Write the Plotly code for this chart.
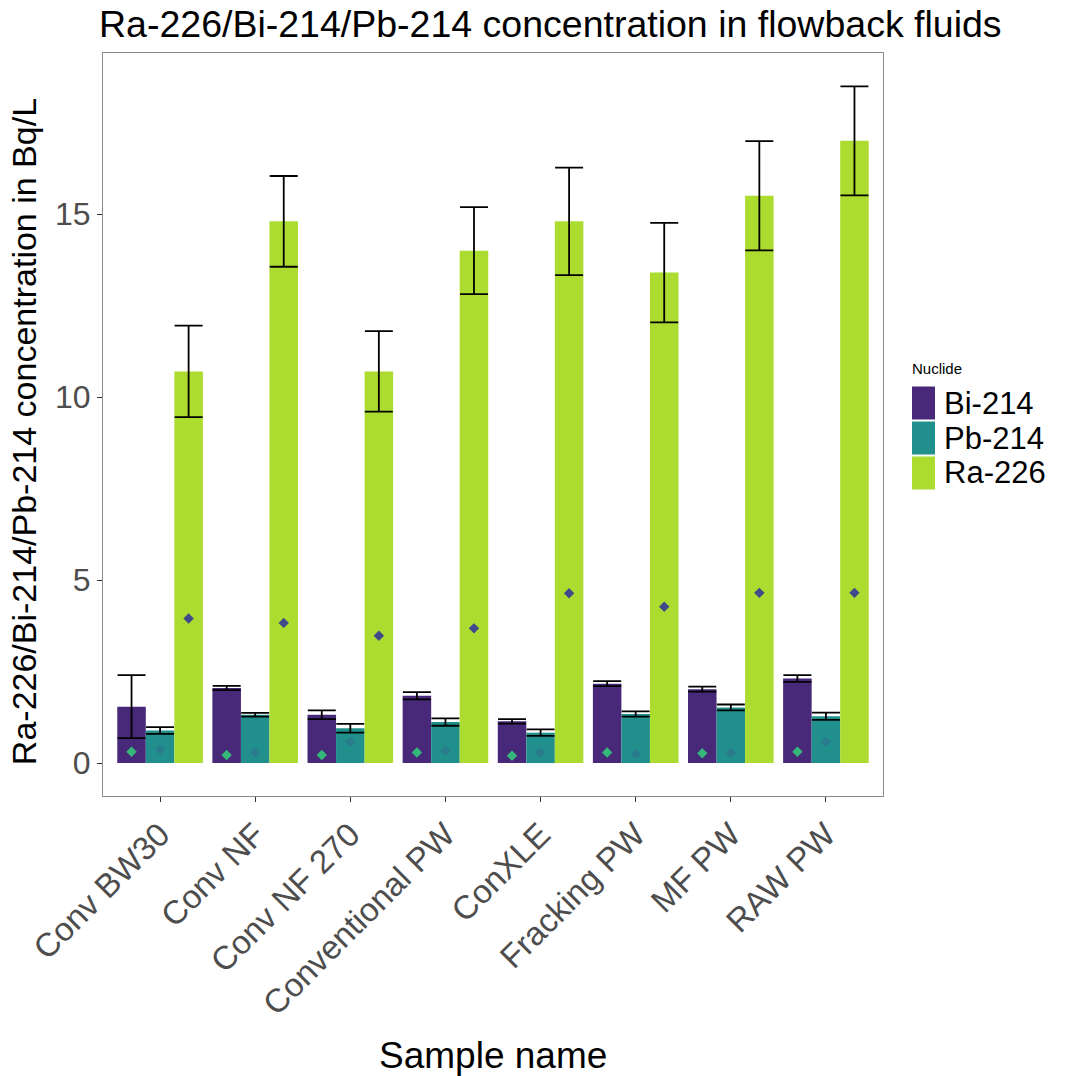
import plotly.graph_objects as go

# Samples and nuclide concentrations (Bq/L)
samples = ["Conv BW30", "Conv NF", "Conv NF 270", "Conventional PW",
           "ConXLE", "Fracking PW", "MF PW", "RAW PW"]
nuclides = ["Bi-214", "Pb-214", "Ra-226"]

bi214 = [1.54, 2.05, 1.32, 1.84, 1.14, 2.17, 2.02, 2.31]
bi214_err = [0.86, 0.06, 0.12, 0.10, 0.06, 0.07, 0.07, 0.09]
pb214 = [0.89, 1.32, 0.95, 1.12, 0.83, 1.34, 1.52, 1.28]
pb214_err = [0.09, 0.05, 0.12, 0.10, 0.09, 0.07, 0.08, 0.10]
ra226 = [10.7, 14.8, 10.7, 14.0, 14.8, 13.4, 15.5, 17.0]
ra226_err = [1.25, 1.24, 1.10, 1.19, 1.47, 1.36, 1.49, 1.49]

# Summary points drawn over each bar
bi214_pt = [0.31, 0.22, 0.22, 0.29, 0.20, 0.29, 0.27, 0.31]
pb214_pt = [0.37, 0.29, 0.58, 0.34, 0.29, 0.25, 0.29, 0.58]
ra226_pt = [3.95, 3.83, 3.48, 3.68, 4.64, 4.27, 4.65, 4.65]

values = [bi214, pb214, ra226]
errors = [bi214_err, pb214_err, ra226_err]
points = [bi214_pt, pb214_pt, ra226_pt]
bar_colors = ["#482878", "#21908C", "#ADDC30"]
point_colors = ["#35B779", "#2A7B8E", "#3E4A89"]

dodge = 0.3
idx = list(range(len(samples)))

fig = go.Figure()
for k, name in enumerate(nuclides):
    off = (k - 1) * dodge
    xs = [i + off for i in idx]
    fig.add_trace(go.Bar(
        x=xs, y=values[k], width=dodge, name=name,
        marker=dict(color=bar_colors[k], line=dict(width=0)),
        error_y=dict(type="data", array=errors[k], visible=True,
                     color="black", thickness=1.8, width=14),
        showlegend=False,
    ))
for k, name in enumerate(nuclides):
    off = (k - 1) * dodge
    xs = [i + off for i in idx]
    fig.add_trace(go.Scatter(
        x=xs, y=points[k], mode="markers", name=name,
        marker=dict(symbol="diamond", size=8, color=point_colors[k]),
        showlegend=False,
    ))

font_family = "Liberation Sans, Arial, sans-serif"
xtick_font = dict(family=font_family, size=33, color="#4D4D4D")
ytick_font = dict(family=font_family, size=32, color="#4D4D4D")

fig.update_layout(
    width=1073, height=1076,
    margin=dict(l=103, r=190, t=53, b=280),
    paper_bgcolor="white", plot_bgcolor="white",
    barmode="overlay",
    font=dict(family=font_family, color="black"),
    title=dict(text="Ra-226/Bi-214/Pb-214 concentration in flowback fluids",
               font=dict(family=font_family, size=37.5, color="black"),
               xref="container", x=99 / 1073, xanchor="left",
               yref="container", y=1 - 24 / 1076, yanchor="middle"),
    xaxis=dict(range=[-0.6, len(samples) - 0.4], tickmode="array",
               tickvals=idx, ticktext=samples, tickangle=-45,
               tickfont=xtick_font, ticks="outside", ticklen=5,
               tickcolor="#333333", showgrid=False, zeroline=False,
               showline=True, linecolor="#8C8C8C", linewidth=1, mirror=True),
    yaxis=dict(range=[-0.9, 19.4], tickvals=[0, 5, 10, 15],
               tickfont=ytick_font, ticks="outside", ticklen=5,
               tickcolor="#333333", showgrid=False, zeroline=False,
               showline=True, linecolor="#8C8C8C", linewidth=1, mirror=True),
)

# Axis titles
fig.add_annotation(text="Ra-226/Bi-214/Pb-214 concentration in Bq/L",
                   xref="paper", yref="paper", x=-0.101, y=0.49,
                   textangle=-90, showarrow=False, xanchor="center",
                   yanchor="middle",
                   font=dict(family=font_family, size=34, color="black"))
fig.add_annotation(text="Sample name", xref="paper", yref="paper",
                   x=0.5, y=-0.3486, showarrow=False, xanchor="center",
                   yanchor="middle",
                   font=dict(family=font_family, size=37, color="black"))

# Legend: title, colour keys and labels
px_w, px_h = 780, 743
def px_to_paper(px, py):
    return (px - 103) / px_w, (796 - py) / px_h

tx, ty = px_to_paper(910, 368)
fig.add_annotation(text="Nuclide", xref="paper", yref="paper", x=tx, y=ty,
                   showarrow=False, xanchor="left", yanchor="middle",
                   font=dict(family=font_family, size=15, color="black"))
row_top = 385.5
row_h = 35
for k, name in enumerate(nuclides):
    x0, y0 = px_to_paper(912, row_top + k * row_h + 1)
    x1, y1 = px_to_paper(935, row_top + (k + 1) * row_h - 1)
    fig.add_shape(type="rect", xref="paper", yref="paper",
                  x0=x0, x1=x1, y0=y1, y1=y0,
                  fillcolor=bar_colors[k], line=dict(width=0))
    lx, ly = px_to_paper(943, row_top + k * row_h + row_h / 2)
    fig.add_annotation(text=name, xref="paper", yref="paper", x=lx, y=ly,
                       showarrow=False, xanchor="left", yanchor="middle",
                       borderpad=0,
                       font=dict(family=font_family, size=31, color="black"))

fig.write_html("out.html")
